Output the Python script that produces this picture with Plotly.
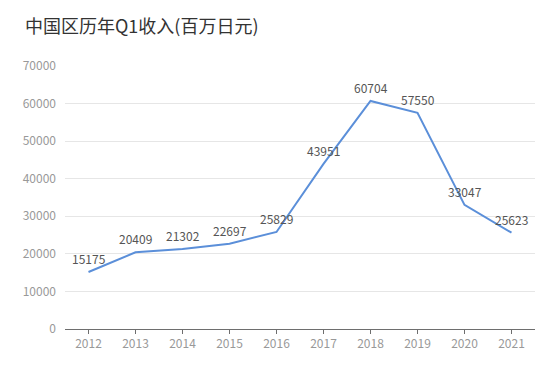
import plotly.graph_objects as go

years = ["2012", "2013", "2014", "2015", "2016", "2017", "2018", "2019", "2020", "2021"]
revenue = [15175, 20409, 21302, 22697, 25829, 43951, 60704, 57550, 33047, 25623]
y_ticks = [0, 10000, 20000, 30000, 40000, 50000, 60000, 70000]
title = "中国区历年Q1收入(百万日元)"

font_family = "Noto Sans CJK SC, Noto Sans, sans-serif"

fig = go.Figure()
fig.add_trace(go.Scatter(
    x=years, y=revenue,
    mode="lines",
    line=dict(color="#5B8FD9", width=2),
    cliponaxis=False,
    hoverinfo="skip",
))

for i, v in enumerate(revenue):
    fig.add_annotation(
        x=i, y=v, text=str(v), showarrow=False,
        xanchor="center", yanchor="bottom", yshift=3,
        font=dict(size=12, color="#555555", family=font_family),
    )

fig.update_layout(
    width=560, height=376,
    margin=dict(l=65, r=25, t=66, b=47),
    paper_bgcolor="white", plot_bgcolor="white",
    showlegend=False,
    font=dict(family=font_family),
    title=dict(text=title, x=25/560, xref="container", xanchor="left",
               y=1, yref="container", yanchor="top", pad=dict(t=20),
               font=dict(size=18, color="#333333", family=font_family)),
)

fig.update_xaxes(
    type="category", range=[-0.5, 9.5],
    showgrid=False, showline=True, linecolor="#6E6E6E", linewidth=1,
    ticks="outside", ticklen=4, tickcolor="#6E6E6E",
    tickfont=dict(size=12, color="#999999"),
    zeroline=False, fixedrange=True,
)
fig.update_yaxes(
    range=[0, 70000], tickvals=y_ticks, ticktext=[str(v) for v in y_ticks],
    showgrid=True, gridcolor="#E6E6E6", gridwidth=1,
    showline=False, zeroline=False, ticks="",
    tickfont=dict(size=12, color="#999999"), ticklabelstandoff=8,
    fixedrange=True,
)

fig.write_html("out.html", config={"displayModeBar": False},
               post_script="document.body.style.margin='0';")
